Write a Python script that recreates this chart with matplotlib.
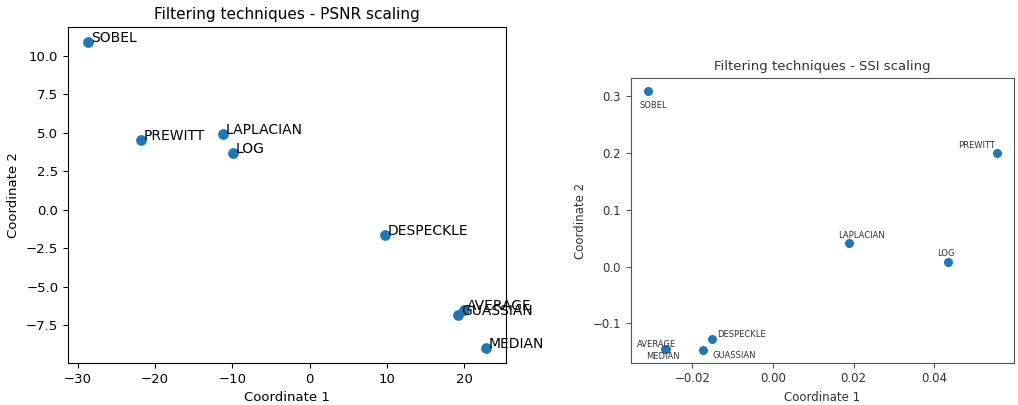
import numpy as np
from matplotlib import pyplot as plt

# PSNR scaling (left panel)
psnr_names = ['SOBEL', 'PREWITT', 'LAPLACIAN', 'LOG', 'DESPECKLE',
              'AVERAGE', 'GUASSIAN', 'MEDIAN']
psnr_x = [-28.67, -21.85, -11.24, -9.87, 9.75, 20.0, 19.24, 22.82]
psnr_y = [10.88, 4.52, 4.95, 3.68, -1.63, -6.48, -6.85, -8.94]

# SSI scaling (right panel)
ssi_names = ['SOBEL', 'PREWITT', 'LAPLACIAN', 'LOG', 'DESPECKLE',
             'GUASSIAN', 'AVERAGE', 'MEDIAN']
ssi_x = [-0.0310, 0.0556, 0.0189, 0.0434, -0.0151, -0.0175, -0.0266, -0.0268]
ssi_y = [0.3093, 0.1997, 0.0413, 0.0091, -0.127, -0.1464, -0.1444, -0.1452]
# label offsets in points (dx, dy) for the right panel
ssi_offsets = [(-6, -12), (-28, 4), (-8, 4), (-8, 4), (3.5, 1),
               (7, -6), (-20.5, 1), (-14, -7)]

fig = plt.figure(figsize=(10.18, 4.05), dpi=100)

ax1 = fig.add_axes([0.0668, 0.104, 0.4302, 0.829])
ax1.scatter(psnr_x, psnr_y, s=45, color='#1f77b4')
for name, x, y in zip(psnr_names, psnr_x, psnr_y):
    ax1.annotate(name, (x, y), xytext=(2, 0), textcoords='offset points',
                 fontsize=10)
ax1.set_title('Filtering techniques - PSNR scaling', fontsize=11)
ax1.set_xlabel('Coordinate 1', fontsize=9.5)
ax1.set_ylabel('Coordinate 2', fontsize=9.5)
ax1.tick_params(labelsize=9.5)

txt = '#333333'
ax2 = fig.add_axes([0.6196, 0.1044, 0.3768, 0.7023])
ax2.scatter(ssi_x, ssi_y, s=30, color='#1f77b4')
for name, x, y, off in zip(ssi_names, ssi_x, ssi_y, ssi_offsets):
    ax2.annotate(name, (x, y), xytext=off, textcoords='offset points',
                 fontsize=6, color=txt)
ax2.set_title('Filtering techniques - SSI scaling', fontsize=9.5, color=txt)
ax2.set_xlabel('Coordinate 1', fontsize=8.5, color=txt)
ax2.set_ylabel('Coordinate 2', fontsize=8.5, color=txt)
ax2.tick_params(labelsize=8.5, labelcolor=txt, color='#555555')
for sp in ax2.spines.values():
    sp.set_color('#555555')
ax2.set_yticks([-0.1, 0.0, 0.1, 0.2, 0.3])

fig.savefig('out.png', dpi=100)
